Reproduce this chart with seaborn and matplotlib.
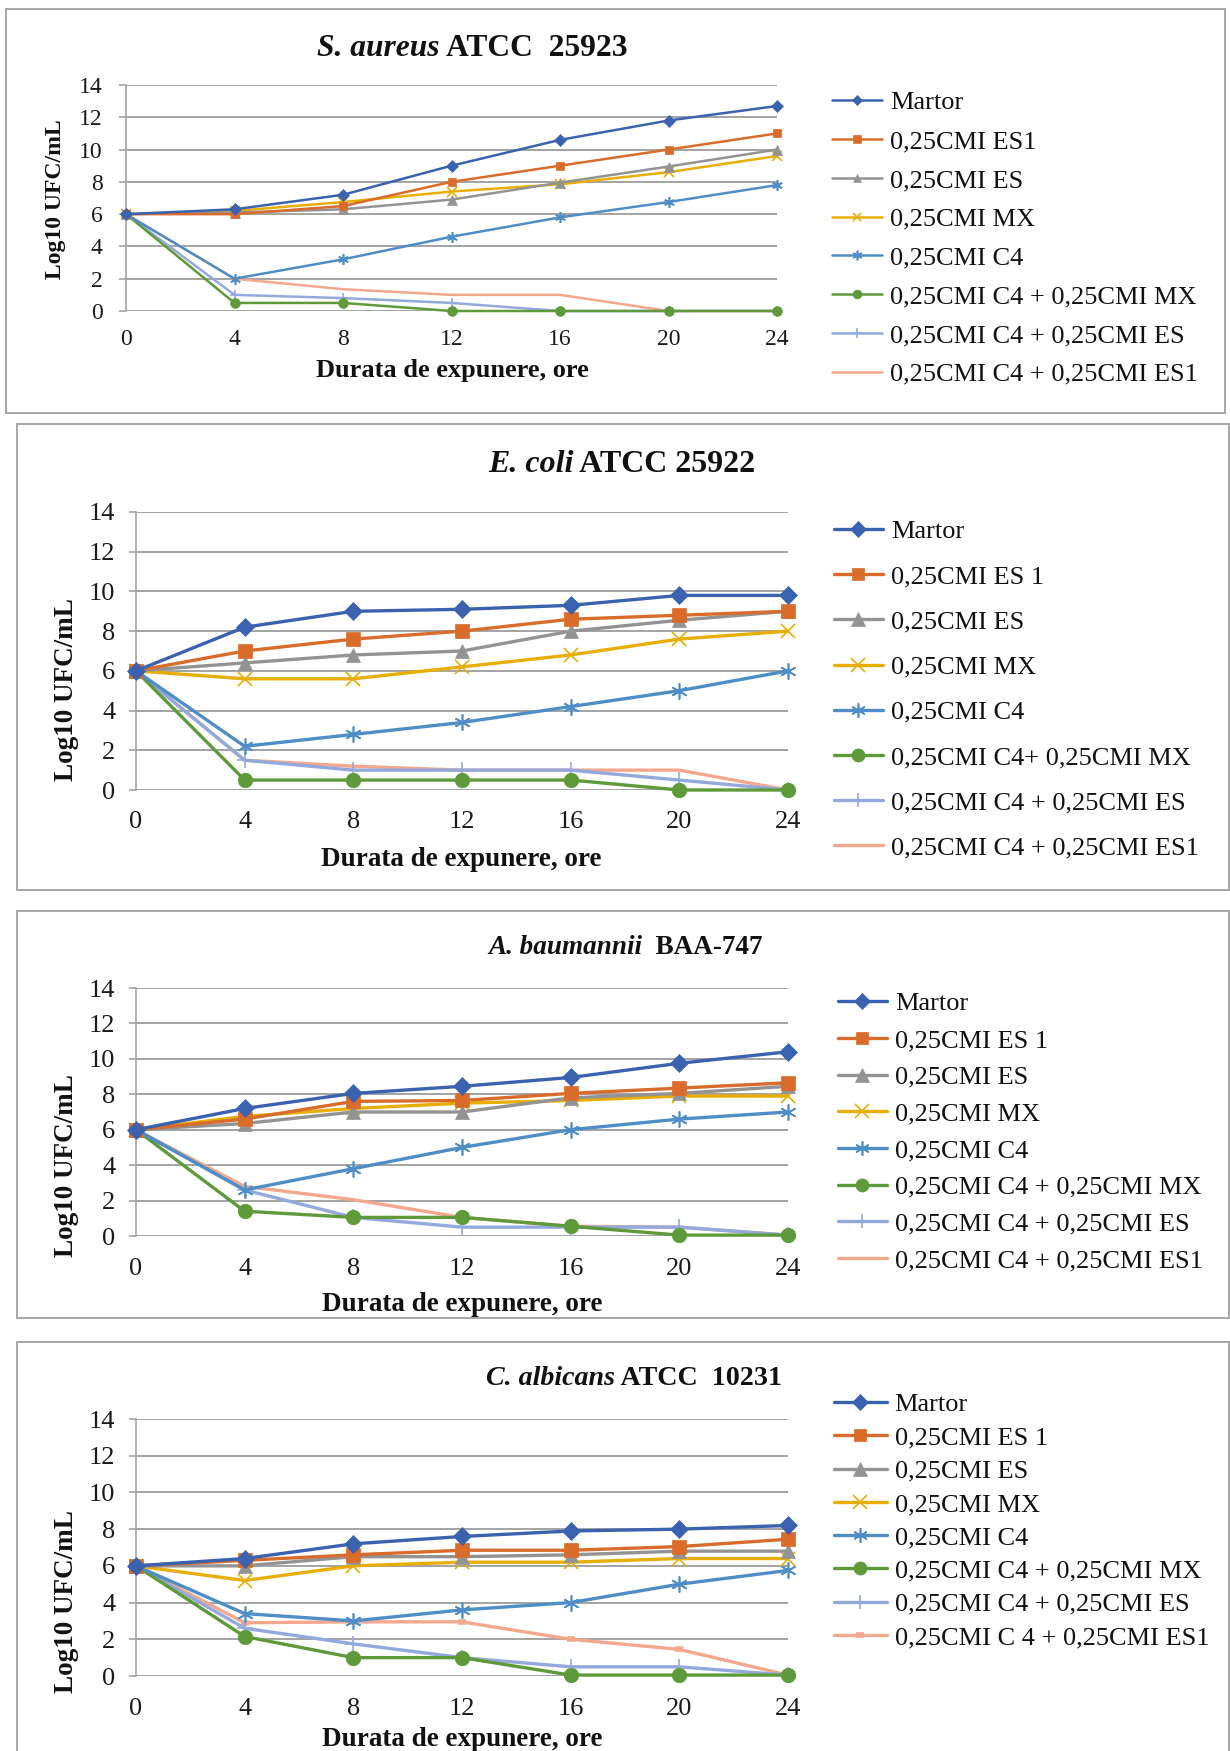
import matplotlib
matplotlib.use("Agg")
import matplotlib.pyplot as plt
from matplotlib.patches import Rectangle
import numpy as np
import pandas as pd
import seaborn as sns

# ---------------- data ----------------
hours = [0, 4, 8, 12, 16, 20, 24]
y_ticks = [0, 2, 4, 6, 8, 10, 12, 14]

titles_italic = ["S. aureus", "E. coli", "A. baumannii", "C. albicans"]
titles_rest = [" ATCC  25923", " ATCC 25922", "  BAA-747", " ATCC  10231"]

labels_sa = ["Martor", "0,25CMI ES1", "0,25CMI ES", "0,25CMI MX", "0,25CMI C4",
             "0,25CMI C4 + 0,25CMI MX", "0,25CMI C4 + 0,25CMI ES", "0,25CMI C4 + 0,25CMI ES1"]
labels_ec = ["Martor", "0,25CMI ES 1", "0,25CMI ES", "0,25CMI MX", "0,25CMI C4",
             "0,25CMI C4+ 0,25CMI MX", "0,25CMI C4 + 0,25CMI ES", "0,25CMI C4 + 0,25CMI ES1"]
labels_ab = ["Martor", "0,25CMI ES 1", "0,25CMI ES", "0,25CMI MX", "0,25CMI C4",
             "0,25CMI C4 + 0,25CMI MX", "0,25CMI C4 + 0,25CMI ES", "0,25CMI C4 + 0,25CMI ES1"]
labels_ca = ["Martor", "0,25CMI ES 1", "0,25CMI ES", "0,25CMI MX", "0,25CMI C4",
             "0,25CMI C4 + 0,25CMI MX", "0,25CMI C4 + 0,25CMI ES", "0,25CMI C 4 + 0,25CMI ES1"]

values_sa = [
    [6, 6.3, 7.2, 9.0, 10.6, 11.8, 12.7],
    [6, 6.0, 6.5, 8.0, 9.0, 10.0, 11.0],
    [6, 6.1, 6.3, 6.9, 7.95, 8.95, 10.0],
    [6, 6.2, 6.75, 7.4, 7.85, 8.6, 9.6],
    [6, 2.0, 3.2, 4.6, 5.8, 6.75, 7.8],
    [6, 0.5, 0.5, 0.0, 0.0, 0.0, 0.0],
    [6, 1.0, 0.8, 0.5, 0.0, 0.0, 0.0],
    [6, 2.0, 1.35, 1.0, 1.0, 0.0, 0.0],
]
values_ec = [
    [6, 8.2, 9.0, 9.1, 9.3, 9.8, 9.8],
    [6, 7.0, 7.6, 8.0, 8.6, 8.8, 9.0],
    [6, 6.4, 6.8, 7.0, 8.0, 8.55, 9.0],
    [6, 5.6, 5.6, 6.2, 6.8, 7.6, 8.0],
    [6, 2.2, 2.8, 3.4, 4.2, 5.0, 6.0],
    [6, 0.5, 0.5, 0.5, 0.5, 0.0, 0.0],
    [6, 1.5, 1.0, 1.0, 1.0, 0.5, 0.0],
    [6, 1.5, 1.2, 1.0, 1.0, 1.0, 0.0],
]
values_ab = [
    [6, 7.2, 8.05, 8.45, 8.95, 9.75, 10.4],
    [6, 6.6, 7.6, 7.65, 8.05, 8.35, 8.65],
    [6, 6.35, 7.0, 7.0, 7.8, 8.05, 8.45],
    [6, 6.75, 7.2, 7.5, 7.65, 7.9, 7.9],
    [6, 2.6, 3.8, 5.0, 6.0, 6.6, 7.0],
    [6, 1.4, 1.05, 1.05, 0.55, 0.05, 0.05],
    [6, 2.6, 1.05, 0.5, 0.5, 0.5, 0.05],
    [6, 2.8, 2.05, 1.05, 0.55, 0.5, 0.05],
]
values_ca = [
    [6, 6.4, 7.2, 7.6, 7.9, 8.0, 8.2],
    [6, 6.3, 6.6, 6.85, 6.85, 7.05, 7.45],
    [6, 6.0, 6.5, 6.5, 6.6, 6.8, 6.8],
    [6, 5.2, 6.0, 6.2, 6.2, 6.4, 6.4],
    [6, 3.4, 3.0, 3.6, 4.0, 5.0, 5.75],
    [6, 2.15, 1.0, 1.0, 0.05, 0.05, 0.05],
    [6, 2.6, 1.75, 1.0, 0.5, 0.5, 0.05],
    [6, 2.9, 2.95, 2.95, 2.0, 1.45, 0.05],
]

colors = ["#3A62AE", "#D96C2B", "#939393", "#E8AE05", "#4F8DC7", "#5E9A3A", "#93A9DE", "#F3A78C"]

# ---------------- figure ----------------
W, H = 1230, 1751
DPI = 100
sns.set_theme(style="white")
plt.rcParams["font.family"] = ["Liberation Serif", "DejaVu Serif"]

fig = plt.figure(figsize=(W / DPI, H / DPI), dpi=DPI)
fig.patch.set_facecolor("white")

GRID = "#A3A3A3"


def fx(x):
    return x / W


def fy(y):
    return 1 - y / H


panels = [
    dict(values=values_sa, labels=labels_sa, box=(6, 9, 1225, 413),
         ax=(126, 777, 85, 311), title=(317, 49), tfs=22.7, tick_fs=17, xpad=13, ypad=12,
         xlabel=(452, 371), ylabel=(-0.092, 0.496), lab_fs=19, ylab_fs=17,
         leg=(832, 91), leg_fs=19, leg_hl=1.9, leg_ls=0.58,
         lw=1.8, ms=7, es1_marker=None),
    dict(values=values_ec, labels=labels_ec, box=(17, 424, 1229, 890),
         ax=(136, 788, 512, 790), title=(488, 465), tfs=23, tick_fs=19, xpad=15, ypad=10,
         xlabel=(461, 860), ylabel=(-0.087, 0.363), lab_fs=19.5, ylab_fs=19.5,
         leg=(834, 520), leg_fs=19, leg_hl=1.85, leg_ls=0.82,
         lw=2.4, ms=10.5, es1_marker=None),
    dict(values=values_ab, labels=labels_ab, box=(17, 911, 1229, 1318),
         ax=(136, 788, 988, 1236), title=(488, 947), tfs=19.5, tick_fs=19, xpad=16, ypad=10,
         xlabel=(462, 1304), ylabel=(-0.087, 0.286), lab_fs=19.5, ylab_fs=19.5,
         leg=(838, 992), leg_fs=19, leg_hl=1.85, leg_ls=0.50,
         lw=2.4, ms=10.5, es1_marker=None),
    dict(values=values_ca, labels=labels_ca, box=(17, 1342, 1229, 1790),
         ax=(136, 788, 1419, 1676), title=(486, 1378), tfs=20.2, tick_fs=19, xpad=16, ypad=10,
         xlabel=(462, 1739), ylabel=(-0.087, 0.29), lab_fs=19.5, ylab_fs=19.5,
         leg=(834, 1393), leg_fs=19, leg_hl=2.0, leg_ls=0.37,
         lw=2.4, ms=10.5, es1_marker="_"),
]

asterisk = (6, 2, 0)

for i, p in enumerate(panels):
    bx0, by0, bx1, by1 = p["box"]
    fig.patches.append(Rectangle((fx(bx0), fy(by1)), fx(bx1 - bx0), (by1 - by0) / H,
                                 transform=fig.transFigure, fill=False,
                                 edgecolor="#A6A6A6", linewidth=1.4, zorder=0))
    l, r, t, b = p["ax"]
    ax = fig.add_axes([fx(l), fy(b), fx(r - l), (b - t) / H])
    ax.set_facecolor("none")

    ms = p["ms"]
    markers = ["D", "s", "^", "x", asterisk, "o", "+", p["es1_marker"]]
    msizes = [ms * 0.85, ms * 0.9, ms, ms, ms * 1.1, ms, ms * 1.1, ms * 0.7]
    for k, (vals, lab) in enumerate(zip(p["values"], p["labels"])):
        df = pd.DataFrame({"ore": hours, "log": vals})
        m = markers[k]
        kw = dict(color=colors[k], linewidth=p["lw"], clip_on=False, zorder=3 + (8 - k) * 0.1)
        if m is not None:
            kw.update(marker=m, markersize=msizes[k], markeredgecolor=colors[k],
                      markerfacecolor=colors[k],
                      markeredgewidth=1.2 if m in ("x", "+", asterisk, "_") else 0.5)
            if m == "_":
                kw.update(markeredgewidth=4, markersize=ms * 0.6)
        sns.lineplot(data=df, x="ore", y="log", ax=ax, label=lab, legend=False, **kw)

    ax.set_xlim(0, 24)
    ax.set_ylim(0, 14)
    ax.set_xticks(hours)
    ax.set_yticks(y_ticks)
    ax.grid(axis="y", color=GRID, linewidth=1.4)
    ax.grid(axis="x", visible=False)
    ax.set_axisbelow(True)
    for s in ["top", "right", "bottom"]:
        ax.spines[s].set_visible(False)
    ax.spines["left"].set_color(GRID)
    ax.spines["left"].set_linewidth(1.2)
    ax.tick_params(axis="y", length=5, width=1.2, color=GRID, direction="out",
                   labelsize=p["tick_fs"], pad=p["ypad"], left=True)
    ax.tick_params(axis="x", length=0, labelsize=p["tick_fs"], pad=p["xpad"])
    for lbl in ax.get_xticklabels() + ax.get_yticklabels():
        lbl.set_color("#1a1a1a")
    ax.set_xlabel("")
    ax.set_ylabel("Log10 UFC/mL", fontsize=p["ylab_fs"], fontweight="bold", color="#111111")
    ax.yaxis.set_label_coords(*p["ylabel"])

    fig.text(fx(p["xlabel"][0]), fy(p["xlabel"][1]), "Durata de expunere, ore",
             ha="center", va="center", fontsize=p["lab_fs"], fontweight="bold", color="#111111")

    t1 = fig.text(fx(p["title"][0]), fy(p["title"][1]), titles_italic[i], ha="left", va="center",
                  fontsize=p["tfs"], fontweight="bold", fontstyle="italic", color="#111111")
    ax.annotate(titles_rest[i], xy=(1, 0.5), xycoords=t1, ha="left", va="center",
                fontsize=p["tfs"], fontweight="bold", color="#111111", annotation_clip=False)

    handles, labs = ax.get_legend_handles_labels()
    leg = fig.legend(handles, labs, loc="upper left",
                     bbox_to_anchor=(fx(p["leg"][0]), fy(p["leg"][1])),
                     bbox_transform=fig.transFigure, frameon=False, borderpad=0,
                     borderaxespad=0, fontsize=p["leg_fs"], handlelength=p["leg_hl"],
                     handletextpad=0.3, labelspacing=p["leg_ls"], markerscale=0.9)
    for txt in leg.get_texts():
        txt.set_color("#111111")

fig.savefig("out.png", dpi=DPI, facecolor="white")
